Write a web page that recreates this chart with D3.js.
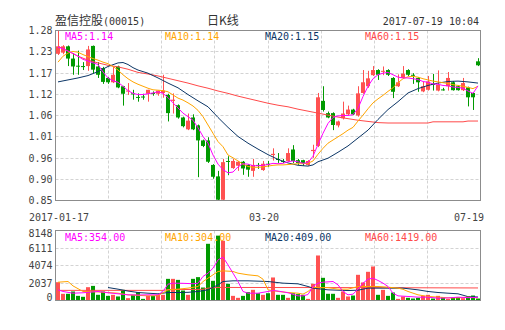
<!DOCTYPE html>
<html>
<head>
<meta charset="utf-8">
<script src="https://cdn.jsdelivr.net/npm/d3@7/dist/d3.min.js"></script>
<style>
  body { margin: 0; background: #fff; }
  svg { display: block; }
</style>
</head>
<body>
<div id="chart"></div>
<script>
// --- data ---
const stockName = "盈信控股";
const stockCode = "(00015)";
const chartType = "日K线";
const stamp = "2017-07-19 10:04";

const xTickIdx = [0, 41, 84];
const xTickLabels = ["2017-01-17", "03-20", "07-19"];
const priceTickLabels = ["0.85", "0.90", "0.96", "1.01", "1.06", "1.12", "1.17", "1.23", "1.28"];
const volTickLabels = ["0", "2037", "4074", "6111", "8148"];

const priceLegend = ["MA5:1.14", "MA10:1.14", "MA20:1.15", "MA60:1.15"];
const volLegend = ["MA5:354.00", "MA10:304.00", "MA20:409.00", "MA60:1419.00"];

const opens = [1.221, 1.224, 1.240, 1.209, 1.191, 1.190, 1.190, 1.241, 1.189, 1.185,
  1.160, 1.149, 1.189, 1.139, 1.126, 1.121, 1.112, 1.113, 1.120, 1.122,
  1.120, 1.122, 1.117, 1.102, 1.091, 1.060, 1.030, 1.060, 1.040, 1.002,
  1.002, 0.940, 0.911, 0.852, 0.950, 0.932, 0.938, 0.948, 0.940, 0.925,
  0.940, 0.927, 0.943, 0.965, 0.955, 0.950, 0.950, 0.979, 0.952, 0.952,
  0.940, 0.975, 0.988, 1.102, 1.071, 1.071, 1.040, 1.058, 1.068, 1.080,
  1.065, 1.122, 1.139, 1.167, 1.180, 1.176, 1.180, 1.160, 1.139, 1.160,
  1.180, 1.168, 1.160, 1.126, 1.130, 1.145, 1.128, 1.131, 1.139, 1.149,
  1.139, 1.129, 1.136, 1.122, 1.202];
const highs = [1.280, 1.243, 1.242, 1.223, 1.229, 1.200, 1.241, 1.242, 1.200, 1.188,
  1.162, 1.189, 1.191, 1.140, 1.147, 1.130, 1.121, 1.120, 1.130, 1.126,
  1.128, 1.168, 1.120, 1.121, 1.093, 1.062, 1.070, 1.068, 1.042, 1.004,
  1.010, 0.942, 0.925, 0.955, 0.962, 0.955, 0.950, 0.950, 0.942, 0.955,
  0.945, 0.950, 0.950, 0.982, 0.970, 0.955, 0.982, 0.990, 0.955, 0.953,
  0.952, 0.991, 1.122, 1.139, 1.075, 1.073, 1.052, 1.100, 1.090, 1.082,
  1.139, 1.180, 1.178, 1.190, 1.182, 1.189, 1.182, 1.162, 1.169, 1.190,
  1.182, 1.172, 1.162, 1.150, 1.165, 1.170, 1.179, 1.135, 1.175, 1.152,
  1.141, 1.160, 1.138, 1.124, 1.210];
const lows = [1.218, 1.220, 1.190, 1.168, 1.168, 1.180, 1.178, 1.172, 1.160, 1.145,
  1.145, 1.147, 1.134, 1.090, 1.117, 1.105, 1.100, 1.105, 1.100, 1.115,
  1.115, 1.110, 1.050, 1.070, 1.057, 1.035, 1.028, 1.028, 0.909, 0.985,
  0.945, 0.905, 0.850, 0.850, 0.914, 0.930, 0.925, 0.915, 0.910, 0.910,
  0.930, 0.925, 0.935, 0.951, 0.945, 0.945, 0.948, 0.945, 0.940, 0.938,
  0.938, 0.958, 0.985, 1.075, 1.058, 1.028, 1.035, 1.055, 1.065, 1.066,
  1.062, 1.120, 1.135, 1.165, 1.155, 1.167, 1.165, 1.109, 1.137, 1.158,
  1.165, 1.145, 1.125, 1.124, 1.128, 1.128, 1.126, 1.128, 1.128, 1.128,
  1.128, 1.127, 1.088, 1.079, 1.190];
const closes = [1.240, 1.240, 1.209, 1.189, 1.189, 1.189, 1.232, 1.181, 1.168, 1.150,
  1.149, 1.168, 1.136, 1.120, 1.128, 1.119, 1.111, 1.111, 1.130, 1.120,
  1.128, 1.128, 1.071, 1.105, 1.060, 1.038, 1.052, 1.030, 1.002, 0.988,
  0.948, 0.910, 0.852, 0.947, 0.948, 0.950, 0.948, 0.931, 0.928, 0.940,
  0.939, 0.943, 0.942, 0.968, 0.953, 0.948, 0.970, 0.950, 0.945, 0.945,
  0.950, 0.978, 1.111, 1.079, 1.060, 1.041, 1.050, 1.070, 1.080, 1.068,
  1.121, 1.149, 1.159, 1.180, 1.168, 1.178, 1.168, 1.125, 1.149, 1.171,
  1.168, 1.166, 1.149, 1.139, 1.151, 1.143, 1.143, 1.129, 1.160, 1.129,
  1.129, 1.147, 1.111, 1.111, 1.192];
const volumes = [2130, 780, 780, 1050, 540, 430, 1550, 1700, 660, 1050,
  540, 660, 470, 1240, 270, 660, 970, 190, 540, 540,
  660, 660, 2520, 2520, 2400, 1160, 660, 2520, 2720, 1510,
  6600, 2290, 7550, 6950, 1940, 540, 310, 540, 970, 1240,
  850, 660, 850, 2680, 660, 660, 310, 850, 740, 660,
  190, 1940, 5240, 2640, 780, 780, 310, 1050, 470, 580,
  2990, 2100, 3340, 3960, 660, 1240, 540, 930, 190, 470,
  310, 230, 310, 540, 660, 230, 540, 390, 190, 310,
  390, 270, 470, 580, 230];

// moving average lines, [candle index, value]
const ma5 = [[0,1.238],[1,1.234],[2,1.228],[3,1.222],[4,1.215],[5,1.207],[6,1.203],[7,1.198],[8,1.194],[9,1.175],
  [10,1.160],[11,1.153],[12,1.149],[13,1.139],[14,1.128],[15,1.121],[16,1.118],[17,1.118],[18,1.120],[19,1.122],
  [20,1.125],[21,1.121],[22,1.110],[23,1.097],[24,1.084],[25,1.071],[26,1.062],[27,1.053],[28,1.034],[29,1.012],
  [30,0.995],[31,0.965],[32,0.942],[33,0.928],[34,0.920],[35,0.922],[36,0.935],[37,0.943],[38,0.942],[39,0.938],
  [40,0.938],[41,0.939],[42,0.941],[43,0.944],[44,0.943],[45,0.944],[46,0.948],[47,0.950],[48,0.948],[49,0.944],
  [50,0.946],[51,0.962],[52,0.992],[53,1.020],[54,1.045],[55,1.060],[56,1.064],[57,1.065],[58,1.065],[59,1.067],
  [60,1.083],[61,1.113],[62,1.139],[63,1.158],[64,1.168],[65,1.172],[66,1.174],[67,1.168],[68,1.162],[69,1.160],
  [70,1.160],[71,1.158],[72,1.156],[73,1.151],[74,1.149],[75,1.145],[76,1.144],[77,1.141],[78,1.140],[79,1.137],
  [80,1.136],[81,1.134],[82,1.127],[83,1.121],[84,1.140]];
const ma10 = [[0,1.200],[1,1.215],[2,1.223],[3,1.227],[4,1.225],[5,1.219],[6,1.214],[7,1.209],[8,1.205],[9,1.200],
  [10,1.196],[11,1.189],[12,1.180],[13,1.168],[14,1.158],[15,1.150],[16,1.144],[17,1.139],[18,1.134],[19,1.130],
  [20,1.129],[21,1.128],[22,1.125],[23,1.117],[24,1.109],[25,1.104],[26,1.097],[27,1.089],[28,1.078],[29,1.062],
  [30,1.041],[31,1.020],[32,0.999],[33,0.986],[34,0.965],[35,0.958],[36,0.950],[37,0.942],[38,0.936],[39,0.934],
  [40,0.934],[41,0.935],[42,0.937],[43,0.939],[44,0.940],[45,0.940],[46,0.941],[47,0.942],[48,0.943],[49,0.943],
  [50,0.944],[51,0.950],[52,0.967],[53,0.982],[54,0.995],[55,1.003],[56,1.011],[57,1.019],[58,1.028],[59,1.035],
  [60,1.051],[61,1.066],[62,1.082],[63,1.097],[64,1.107],[65,1.116],[66,1.126],[67,1.135],[68,1.148],[69,1.158],
  [70,1.163],[71,1.164],[72,1.162],[73,1.158],[74,1.155],[75,1.152],[76,1.150],[77,1.148],[78,1.146],[79,1.143],
  [80,1.141],[81,1.139],[82,1.136],[83,1.133],[84,1.139]];
const ma20 = [[0,1.150],[2,1.155],[4,1.160],[6,1.166],[8,1.176],[10,1.189],[12,1.198],[13,1.199],[14,1.194],[15,1.186],
  [16,1.180],[18,1.172],[20,1.160],[22,1.147],[24,1.135],[26,1.118],[28,1.102],[30,1.087],[32,1.060],[34,1.035],
  [36,1.012],[38,0.995],[40,0.980],[42,0.966],[44,0.954],[46,0.945],[48,0.939],[50,0.937],[51,0.940],[52,0.948],
  [54,0.957],[56,0.972],[58,0.988],[60,1.008],[62,1.028],[64,1.055],[66,1.080],[68,1.100],[70,1.122],[72,1.133],
  [74,1.141],[76,1.147],[78,1.151],[80,1.152],[82,1.150],[84,1.147]];
const ma60 = [[0,1.240],[2,1.228],[4,1.215],[6,1.205],[8,1.198],[10,1.192],[12,1.188],[14,1.182],[16,1.174],[18,1.170],
  [20,1.165],[22,1.159],[24,1.153],[26,1.147],[28,1.140],[30,1.134],[32,1.127],[34,1.121],[36,1.114],[38,1.108],
  [40,1.102],[42,1.096],[44,1.091],[46,1.087],[48,1.081],[50,1.076],[52,1.071],[54,1.066],[56,1.061],[58,1.057],
  [60,1.053],[62,1.050],[64,1.047],[66,1.046],[74,1.046],[75,1.049],[81,1.049],[82,1.051],[84,1.051]];

const vma5 = [[0,1240],[1,1050],[3,850],[5,900],[6,950],[8,1050],[10,900],[12,780],[14,660],[16,640],
  [18,660],[20,660],[21,1050],[22,1900],[23,2020],[25,2000],[27,1950],[28,2000],[29,2800],[30,3180],
  [31,3760],[32,4730],[33,5040],[34,4150],[35,3180],[36,2210],[37,1050],[38,850],[40,850],[42,1050],
  [43,1160],[44,1100],[46,900],[48,540],[49,540],[50,700],[51,1630],[52,2020],[53,2130],[55,2210],
  [56,1820],[57,1050],[58,660],[59,740],[60,1320],[61,2020],[62,2480],[63,2600],[64,2330],[65,2020],
  [66,1630],[67,850],[68,540],[70,470],[72,390],[74,390],[76,270],[78,300],[80,390],[82,330],[84,354]];
const vma10 = [[0,2130],[2,2210],[3,1700],[5,1050],[8,1000],[10,930],[12,850],[14,660],[16,600],[18,540],
  [20,560],[22,1240],[24,1320],[26,1440],[28,1630],[29,2200],[30,2600],[32,3380],[33,3450],[35,3380],
  [36,3180],[38,2990],[40,2870],[41,2480],[42,1240],[44,1050],[46,930],[48,850],[49,740],[50,1050],
  [51,1550],[52,1500],[54,1500],[56,1320],[58,1320],[60,1630],[62,1630],[64,1630],[66,1550],[68,1440],
  [69,1300],[70,1050],[72,660],[74,470],[76,400],[78,310],[80,310],[82,390],[84,304]];
const vma20 = [[10,1510],[12,1320],[14,1100],[16,930],[18,850],[20,780],[22,930],[24,930],[26,950],[28,1050],
  [30,1240],[32,1820],[33,2210],[35,2290],[38,2290],[42,2210],[45,2020],[48,1940],[50,1630],[51,1440],
  [54,1240],[58,1160],[60,1200],[62,1440],[64,1440],[67,1440],[69,1440],[72,1240],[74,1050],[76,930],
  [78,850],[80,780],[82,450],[84,409]];
const vma60 = [[0,1180],[21,1180],[22,1260],[29,1300],[30,1440],[32,1520],[60,1500],[84,1460]];

// --- layout ---
const width = 505;
const height = 330;
const left = 55.5;
const right = 480.5;
const priceTop = 30.5;
const priceBottom = 200.5;
const volTop = 230.5;
const volBottom = 300.5;

const upColor = "#ff5151";
const downColor = "#009a00";
const maColors = ["#ff00ff", "#ffa500", "#0c3666", "#ff4a4a"];
const gridColor = "#d3d3d3";
const frameColor = "#8c8c8c";
const labelColor = "#444";
const monoFont = "'DejaVu Sans Mono', 'Liberation Mono', monospace";
const cjkFont = "'Noto Sans CJK SC', sans-serif";

const svg = d3
  .select("#chart")
  .append("svg")
  .attr("width", width)
  .attr("height", height);

svg.append("rect").attr("width", width).attr("height", height).attr("fill", "#fff");

const x = d3
  .scaleBand()
  .domain(d3.range(closes.length))
  .range([left, right])
  .paddingInner(0.2)
  .paddingOuter(0.1);
const xc = (i) => x(i) + x.bandwidth() / 2;

const y = d3.scaleLinear().domain([0.85, 1.28]).range([priceBottom, priceTop]);
const yv = d3.scaleLinear().domain([0, 8148]).range([volBottom, volTop]);

const priceTickValues = priceTickLabels.map((d, i) => 0.85 + (i * (1.28 - 0.85)) / 8);
const volTickValues = volTickLabels.map((d, i) => (i * 8148) / 4);
const crisp = (v) => Math.round(v - 0.5) + 0.5;

function drawGrid(g, yScale, tickValues, top, bottom) {
  // horizontal dashed lines (skip the frame edges)
  g.selectAll("line.h")
    .data(tickValues.slice(1, -1))
    .enter()
    .append("line")
    .attr("x1", left)
    .attr("x2", right)
    .attr("y1", (d) => crisp(yScale(d)))
    .attr("y2", (d) => crisp(yScale(d)))
    .attr("stroke", gridColor)
    .attr("stroke-dasharray", "3 2");

  // vertical dashed lines, 8 columns
  g.selectAll("line.v")
    .data(d3.range(1, 8))
    .enter()
    .append("line")
    .attr("x1", (d) => crisp(left + (d * (right - left)) / 8))
    .attr("x2", (d) => crisp(left + (d * (right - left)) / 8))
    .attr("y1", top)
    .attr("y2", bottom)
    .attr("stroke", gridColor)
    .attr("stroke-dasharray", "3 2");
}

function drawYLabels(g, yScale, tickValues, labels, top, bottom) {
  g.selectAll("text")
    .data(tickValues)
    .enter()
    .append("text")
    .attr("x", left - 3)
    .attr("y", (d) => Math.max(top + 3, Math.min(bottom - 3.5, yScale(d))))
    .attr("dy", "0.35em")
    .attr("text-anchor", "end")
    .attr("font-family", monoFont)
    .attr("font-size", "10px")
    .attr("fill", labelColor)
    .text((d, i) => labels[i]);
}

function drawLegend(g, texts, baseline) {
  g.selectAll("text")
    .data(texts)
    .enter()
    .append("text")
    .attr("x", (d, i) => 65 + i * 100)
    .attr("y", baseline)
    .attr("font-family", monoFont)
    .attr("font-size", "10px")
    .attr("fill", (d, i) => maColors[i])
    .text((d) => d);
}

function drawLine(g, points, yScale, color) {
  g.append("path")
    .datum(points)
    .attr("fill", "none")
    .attr("stroke", color)
    .attr("stroke-width", 1)
    .attr(
      "d",
      d3
        .line()
        .x((d) => xc(d[0]))
        .y((d) => yScale(d[1]))
    );
}

// --- header ---
const header = svg.append("text").attr("x", 55).attr("y", 25).attr("fill", "#333");
header.append("tspan").attr("font-family", cjkFont).attr("font-size", "12px").text(stockName);
header.append("tspan").attr("font-family", monoFont).attr("font-size", "10px").text(stockCode);

svg
  .append("text")
  .attr("x", 207)
  .attr("y", 25)
  .attr("font-family", cjkFont)
  .attr("font-size", "12px")
  .attr("fill", "#333")
  .text(chartType);

svg
  .append("text")
  .attr("x", 479)
  .attr("y", 25)
  .attr("text-anchor", "end")
  .attr("font-family", monoFont)
  .attr("font-size", "10px")
  .attr("fill", "#333")
  .text(stamp);

// --- price panel ---
const price = svg.append("g");
drawGrid(price, y, priceTickValues, priceTop, priceBottom);

const isUp = (i) => closes[i] >= opens[i];

price
  .selectAll("line.wick")
  .data(d3.range(closes.length))
  .enter()
  .append("line")
  .attr("x1", (i) => Math.round(xc(i)) + 0.5)
  .attr("x2", (i) => Math.round(xc(i)) + 0.5)
  .attr("y1", (i) => y(highs[i]))
  .attr("y2", (i) => y(lows[i]))
  .attr("stroke", (i) => (isUp(i) ? upColor : downColor));

price
  .selectAll("rect.body")
  .data(d3.range(closes.length))
  .enter()
  .append("rect")
  .attr("x", (i) => Math.round(x(i)))
  .attr("width", Math.round(x.bandwidth()))
  .attr("y", (i) => y(Math.max(opens[i], closes[i])))
  .attr("height", (i) => Math.max(1, Math.abs(y(opens[i]) - y(closes[i]))))
  .attr("fill", (i) => (isUp(i) ? upColor : downColor));

[ma60, ma20, ma10, ma5].forEach((pts, k) => drawLine(price, pts, y, maColors[3 - k]));

price
  .append("rect")
  .attr("x", left)
  .attr("y", priceTop)
  .attr("width", right - left)
  .attr("height", priceBottom - priceTop)
  .attr("fill", "none")
  .attr("stroke", frameColor);

drawYLabels(svg.append("g"), y, priceTickValues, priceTickLabels, 0, 999);
drawLegend(svg.append("g"), priceLegend, 40);

// x labels
svg
  .append("g")
  .selectAll("text")
  .data(xTickIdx)
  .enter()
  .append("text")
  .attr("x", (d, i) => (i === xTickIdx.length - 1 ? right + 3.5 : xc(d) + 1))
  .attr("y", 220.5)
  .attr("text-anchor", (d, i) => (i === xTickIdx.length - 1 ? "end" : "middle"))
  .attr("font-family", monoFont)
  .attr("font-size", "10px")
  .attr("fill", labelColor)
  .text((d, i) => xTickLabels[i]);

// --- volume panel ---
const vol = svg.append("g");
drawGrid(vol, yv, volTickValues, volTop, volBottom);

vol
  .selectAll("rect.bar")
  .data(d3.range(volumes.length))
  .enter()
  .append("rect")
  .attr("x", (i) => Math.round(x(i)))
  .attr("width", Math.round(x.bandwidth()))
  .attr("y", (i) => yv(volumes[i]))
  .attr("height", (i) => volBottom - yv(volumes[i]))
  .attr("fill", (i) => (isUp(i) ? upColor : downColor));

[vma60, vma20, vma10, vma5].forEach((pts, k) => drawLine(vol, pts, yv, maColors[3 - k]));

vol
  .append("rect")
  .attr("x", left)
  .attr("y", volTop)
  .attr("width", right - left)
  .attr("height", volBottom - volTop)
  .attr("fill", "none")
  .attr("stroke", frameColor);

drawYLabels(svg.append("g"), yv, volTickValues, volTickLabels, volTop, volBottom);
drawLegend(svg.append("g"), volLegend, 240.5);
</script>
</body>
</html>
